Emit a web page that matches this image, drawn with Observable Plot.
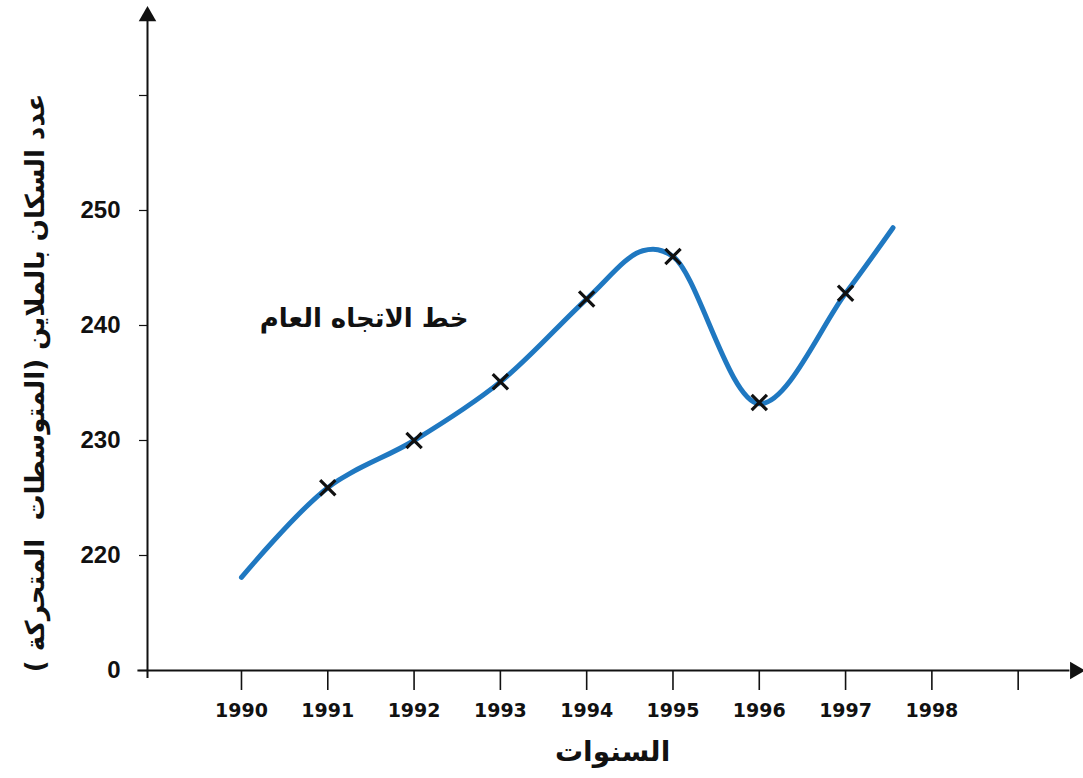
<!DOCTYPE html>
<html><head><meta charset="utf-8">
<script src="https://cdn.jsdelivr.net/npm/d3@7"></script>
<script src="https://cdn.jsdelivr.net/npm/@observablehq/plot@0.6"></script>
<style>body{margin:0;background:#fff}</style>
</head><body><div id="chart"></div>
<script>
// Moving-average points (marked with ×)
const years = [1991, 1992, 1993, 1994, 1995, 1996, 1997];
const movingAverages = [225.9, 230.0, 235.1, 242.3, 246.0, 233.3, 242.8];
// General trend line
const trendYears = [1990, 1991, 1992, 1993, 1994, 1994.65, 1995, 1996, 1997, 1997.55];
const trendValues = [218.1, 225.9, 230.0, 235.1, 242.3, 246.5, 246.0, 233.2, 242.8, 248.5];
// Axis ticks and labels
const xTicks = [1990, 1991, 1992, 1993, 1994, 1995, 1996, 1997, 1998, 1999];
const xTickLabels = ["1990", "1991", "1992", "1993", "1994", "1995", "1996", "1997", "1998", ""];
const yTicks = [210, 220, 230, 240, 250, 260];
const yTickLabels = ["0", "220", "230", "240", "250", ""];
const yTitle = "عدد السكان بالملاين (المتوسطات  المتحركة )";
const xTitle = "السنوات";
const trendLabel = "خط الاتجاه العام";

const points = years.map((y, i) => ({year: y, value: movingAverages[i]}));
const trend = trendYears.map((y, i) => ({year: y, value: trendValues[i]}));
const xLab = new Map(xTicks.map((t, i) => [t, xTickLabels[i]]));
const yLab = new Map(yTicks.map((t, i) => [t, yTickLabels[i]]));

const X0 = 1988.911, X1 = 1999.757, Y0 = 210, Y1 = 268.26;
const arabic = "'DejaVu Sans', 'Noto Sans', sans-serif";

const chart = Plot.plot({
  width: 1083,
  height: 778,
  marginLeft: 147,
  marginRight: 0,
  marginTop: 0,
  marginBottom: 108,
  style: {background: "#fff", overflow: "visible"},
  x: {domain: [X0, X1]},
  y: {domain: [Y0, Y1]},
  marks: [
    // axes lines
    Plot.ruleY([Y0], {x1: 1988.80, x2: 1999.60, stroke: "#111", strokeWidth: 2}),
    Plot.ruleX([X0], {y1: 209.3, y2: 266.5, stroke: "#111", strokeWidth: 2}),
    Plot.dot([{x: 1999.66, y: Y0}], {x: "x", y: "y", symbol: "triangle", r: 6.5, fill: "#111", stroke: null, rotate: 90}),
    Plot.dot([{x: X0, y: 266.9}], {x: "x", y: "y", symbol: "triangle", r: 6.5, fill: "#111", stroke: null}),
    Plot.axisX({
      ticks: xTicks, tickSize: 20, tickPadding: 13,
      tickFormat: d => xLab.get(d), label: null,
      fontSize: 19, fontWeight: "bold", fontFamily: "'DejaVu Sans', sans-serif",
      stroke: "#111", strokeWidth: 1.6, fill: "#111"
    }),
    Plot.axisY({
      ticks: yTicks, tickSize: 8, tickPadding: 19,
      tickFormat: d => yLab.get(d), label: null,
      fontSize: 24, fontWeight: "bold", fontFamily: "'Liberation Sans', Arial, sans-serif",
      stroke: "#111", strokeWidth: 1.2, fill: "#111"
    }),
    // trend line
    Plot.line(trend, {x: "year", y: "value", curve: "catmull-rom", stroke: "#1f78c1", strokeWidth: 5}),
    // moving average markers
    Plot.dot(points, {x: "year", y: "value", symbol: "times", r: 7, stroke: "#111", strokeWidth: 3.2}),
    // annotations
    Plot.text([trendLabel], {x: 1991.42, y: 240.6, text: d => d, fontSize: 26, fontWeight: "bold", fontFamily: arabic, fill: "#111"}),
    Plot.text([xTitle], {x: 1994.30, y: 202.9, text: d => d, fontSize: 28, fontWeight: "bold", fontFamily: arabic, fill: "#111"}),
    Plot.text([yTitle], {x: 1987.61, y: 235.0, text: d => d, rotate: -90, fontSize: 26, fontWeight: "bold", fontFamily: arabic, fill: "#111"})
  ]
});
document.getElementById("chart").appendChild(chart);
</script>
</body></html>
